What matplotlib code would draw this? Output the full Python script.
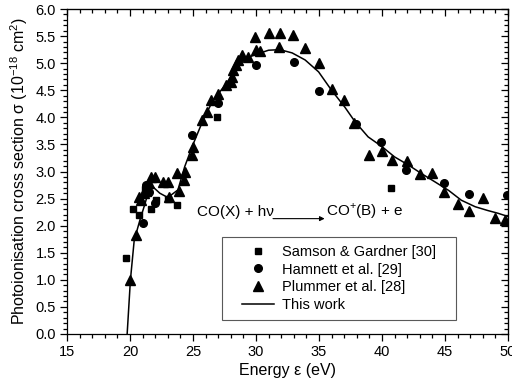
import numpy as np
import matplotlib
matplotlib.use("Agg")
import matplotlib.pyplot as plt
from matplotlib.patches import Rectangle
from matplotlib.ticker import MultipleLocator

plt.rcParams["font.family"] = ["Liberation Sans", "DejaVu Sans"]
plt.rcParams["mathtext.fontset"] = "custom"
plt.rcParams["mathtext.rm"] = "Liberation Sans"

# Samson & Gardner [30]
samson_x = [19.65, 20.25, 20.7, 21.2, 21.45, 21.65, 22.1, 23.05, 23.75, 26.9, 40.7]
samson_y = [1.40, 2.30, 2.20, 2.68, 2.60, 2.30, 2.48, 2.50, 2.39, 4.00, 2.69]

# Hamnett et al. [29]
hamnett_x = [21.0, 21.3, 21.5, 22.0, 24.95, 27.0, 30.0, 33.0, 35.0, 37.95, 39.95, 41.9, 44.95, 46.9, 49.9]
hamnett_y = [2.05, 2.75, 2.62, 2.42, 3.67, 4.27, 4.96, 5.02, 4.48, 3.87, 3.54, 3.02, 2.78, 2.58, 2.57]

# Plummer et al. [28]
plummer_x = [20.0, 20.5, 20.7, 20.9, 21.1, 21.3, 21.5, 21.7, 22.0, 22.6, 23.0, 23.1, 23.7,
             23.9, 24.3, 24.4, 24.95, 25.0, 25.7, 26.1, 26.4, 27.0, 27.6, 28.0, 28.1, 28.2,
             28.4, 28.6, 28.9, 29.4, 29.9, 30.0, 30.3, 31.0, 31.9, 31.85, 32.9, 33.9, 35.0,
             36.0, 37.0, 37.8, 39.0, 40.0, 40.8, 42.0, 43.0, 44.0, 44.95, 46.0, 46.9, 48.0,
             48.95, 49.8]
plummer_y = [1.0, 1.83, 2.53, 2.48, 2.6, 2.7, 2.78, 2.9, 2.9, 2.81, 2.81, 2.53, 2.98,
             2.64, 2.84, 3.0, 3.31, 3.46, 3.96, 4.1, 4.32, 4.44, 4.6, 4.66, 4.75, 4.87,
             4.96, 5.06, 5.15, 5.12, 5.49, 5.24, 5.23, 5.56, 5.55, 5.29, 5.53, 5.28, 5.0,
             4.53, 4.32, 3.9, 3.30, 3.38, 3.21, 3.2, 2.95, 2.98, 2.62, 2.4, 2.28, 2.52,
             2.14, 2.11]

# This work
work_x = [19.77, 20.03, 20.33, 20.78, 21.18, 21.5, 21.8, 22.36, 23.0, 23.8, 24.34, 25.0,
          25.8, 26.6, 27.64, 28.4, 29.2, 29.96, 31.0, 31.9, 32.87, 33.9, 34.97, 36.0,
          37.05, 37.86, 38.9, 40.0, 41.0, 42.1, 43.15, 44.2, 45.3, 46.3, 47.4, 48.4,
          49.2, 50.0]
work_y = [0.0, 1.0, 1.73, 2.1, 2.4, 2.66, 2.72, 2.6, 2.52, 2.66, 3.09, 3.5, 3.95, 4.32,
          4.62, 4.9, 5.09, 5.16, 5.24, 5.25, 5.19, 5.06, 4.84, 4.5, 4.19, 3.92, 3.64,
          3.46, 3.27, 3.12, 2.96, 2.81, 2.65, 2.47, 2.35, 2.28, 2.23, 2.17]

fig = plt.figure(figsize=(5.12, 3.85), dpi=100)
ax = fig.add_axes([0.131, 0.1325, 0.861, 0.844])

ax.plot(samson_x, samson_y, "s", color="black", ms=5, label="Samson & Gardner [30]", zorder=3)
ax.plot(hamnett_x, hamnett_y, "o", color="black", ms=5.5, label="Hamnett et al. [29]", zorder=3)
ax.plot(plummer_x, plummer_y, "^", color="black", ms=6.5, label="Plummer et al. [28]", zorder=3)
ax.plot(work_x, work_y, "-", color="black", lw=1.1, label="This work", zorder=2)

ax.set_xlim(15, 50)
ax.set_ylim(0, 6)
ax.xaxis.set_major_locator(MultipleLocator(5))
ax.xaxis.set_minor_locator(MultipleLocator(1))
ax.yaxis.set_major_locator(MultipleLocator(0.5))
ax.yaxis.set_minor_locator(MultipleLocator(0.1))
ax.yaxis.set_major_formatter(matplotlib.ticker.FormatStrFormatter("%.1f"))
ax.tick_params(which="both", direction="out", labelsize=10.5, width=0.9, pad=3)
ax.tick_params(which="major", length=5)
ax.tick_params(which="minor", length=3)
for s in ax.spines.values():
    s.set_linewidth(0.9)

# inward ticks on top and right
top = ax.secondary_xaxis("top")
top.xaxis.set_major_locator(MultipleLocator(5))
top.xaxis.set_minor_locator(MultipleLocator(1))
top.tick_params(which="both", direction="in", labeltop=False, width=0.9)
top.tick_params(which="major", length=5)
top.tick_params(which="minor", length=3)
right = ax.secondary_yaxis("right")
right.yaxis.set_major_locator(MultipleLocator(0.5))
right.yaxis.set_minor_locator(MultipleLocator(0.1))
right.tick_params(which="both", direction="in", labelright=False, width=0.9)
right.tick_params(which="major", length=5)
right.tick_params(which="minor", length=3)

ax.set_xlabel("Energy ε (eV)", fontsize=11.5, labelpad=3)
ax.set_ylabel("Photoionisation cross section σ (10$^{\\mathregular{-18}}$ cm$^{\\mathregular{2}}$)",
              fontsize=11.5, labelpad=4)

ax.text(25.3, 2.26, "CO(X) + hν", fontsize=11, va="center", ha="left")
ax.annotate("", xy=(35.45, 2.13), xytext=(31.35, 2.13),
            arrowprops=dict(arrowstyle="-|>", color="black", lw=0.8,
                            mutation_scale=7, shrinkA=0, shrinkB=0))
ax.text(35.55, 2.26, "CO$^{\\mathregular{+}}$(B) + e", fontsize=11, va="center", ha="left")

ax.add_patch(Rectangle((0.351, 0.043), 0.531, 0.255, transform=ax.transAxes,
                       fill=False, edgecolor="0.35", lw=0.8, zorder=4))
ax.legend(loc="center", bbox_to_anchor=(0.617, 0.171), frameon=False, fontsize=10.5,
          handlelength=2.2, handletextpad=0.55, labelspacing=0.25, borderpad=0)

fig.savefig("out.png", dpi=100)
